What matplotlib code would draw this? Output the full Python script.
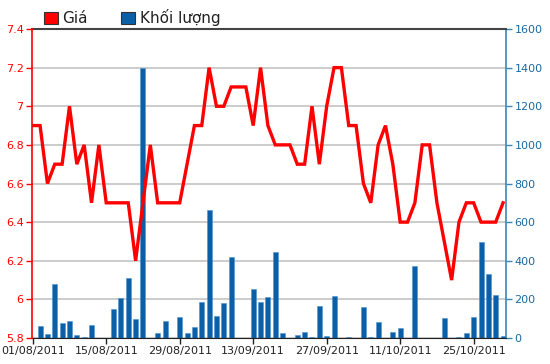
import matplotlib
matplotlib.use("Agg")
import matplotlib.pyplot as plt
from matplotlib.patches import Patch
import numpy as np

# one value per trading day, 01/08/2011 .. 31/10/2011
price = [6.9, 6.9, 6.6, 6.7, 6.7, 7.0, 6.7, 6.8, 6.5, 6.8,
         6.5, 6.5, 6.5, 6.5, 6.2, 6.5, 6.8, 6.5, 6.5, 6.5,
         6.5, 6.7, 6.9, 6.9, 7.2, 7.0, 7.0, 7.1, 7.1, 7.1,
         6.9, 7.2, 6.9, 6.8, 6.8, 6.8, 6.7, 6.7, 7.0, 6.7,
         7.0, 7.2, 7.2, 6.9, 6.9, 6.6, 6.5, 6.8, 6.9, 6.7,
         6.4, 6.4, 6.5, 6.8, 6.8, 6.5, 6.3, 6.1, 6.4, 6.5,
         6.5, 6.4, 6.4, 6.4, 6.5]
volume = [0, 60, 20, 280, 76, 90, 14, 7, 67, 0,
          0, 150, 205, 310, 100, 1400, 0, 25, 90, 0,
          107, 24, 57, 186, 665, 114, 182, 421, 0, 0,
          255, 186, 211, 447, 24, 0, 18, 31, 7, 166,
          11, 217, 0, 5, 0, 159, 7, 83, 0, 31,
          52, 0, 372, 0, 0, 0, 102, 0, 5, 24,
          107, 499, 331, 223, 10]
tick_labels = ['01/08/2011', '15/08/2011', '29/08/2011', '13/09/2011',
               '27/09/2011', '11/10/2011', '25/10/2011']
price_ticks = [5.8, 6, 6.2, 6.4, 6.6, 6.8, 7, 7.2, 7.4]
vol_ticks = [0, 200, 400, 600, 800, 1000, 1200, 1400, 1600]

RED = '#ff0000'
BLUE = '#0a5fa6'
AXBLUE = '#3a85b5'

x = np.arange(len(price))

fig = plt.figure(figsize=(5.5, 3.64), dpi=100)
ax = fig.add_axes([32 / 550, 1 - 338 / 364, 474 / 550, 309 / 364])

# volume bars (right axis)
ax.bar(x, volume, width=0.68, color=BLUE, edgecolor='#4f93cf', linewidth=0.4, zorder=2)
ax.set_ylim(0, 1600)
ax.set_xlim(-0.1, 64.4)
ax.set_yticks(vol_ticks)
ax.grid(axis='y', color='#cccccc', linewidth=1.4, zorder=0)
ax.set_axisbelow(True)
ax.set_xticks(x[::10])
ax.set_xticklabels(tick_labels)
ax.tick_params(axis='x', length=4, width=1, labelsize=8, pad=2, colors='#222222')
ax.spines['left'].set_visible(False)
ax.spines['right'].set_color(AXBLUE)
ax.spines['right'].set_linewidth(1.2)
ax.spines['top'].set_color('#444444')
ax.spines['top'].set_linewidth(1.5)
ax.spines['bottom'].set_color('#222222')

# price line (left axis)
axp = ax.twinx()
ax.yaxis.tick_right()
ax.tick_params(axis='y', colors=AXBLUE, labelcolor='#1a6aa0', length=4, width=1, labelsize=8, pad=2)
axp.plot(x, price, color=RED, linewidth=2.4, solid_joinstyle='miter', zorder=3)
axp.set_ylim(5.8, 7.4)
axp.set_yticks(price_ticks)
axp.set_yticklabels([f'{v:g}' for v in price_ticks])
axp.yaxis.tick_left()
axp.tick_params(axis='y', colors=RED, labelcolor=RED, length=4, width=1, labelsize=8, pad=2)
for s in ['right', 'top', 'bottom']:
    axp.spines[s].set_visible(False)
axp.spines['left'].set_color(RED)
axp.spines['left'].set_linewidth(1.2)
axp.set_xlim(-0.1, 64.4)

handles = [Patch(facecolor=RED, edgecolor='#333333', linewidth=0.8),
           Patch(facecolor=BLUE, edgecolor='#333333', linewidth=0.8)]
fig.legend(handles, ['Giá', 'Khối lượng'], loc='upper left', bbox_to_anchor=(0.055, 1.012),
           ncol=2, frameon=False, fontsize=11, handlelength=0.9, handleheight=0.9,
           handletextpad=0.3, columnspacing=2.2, labelcolor='#222222')

fig.savefig('out.png', dpi=100)
